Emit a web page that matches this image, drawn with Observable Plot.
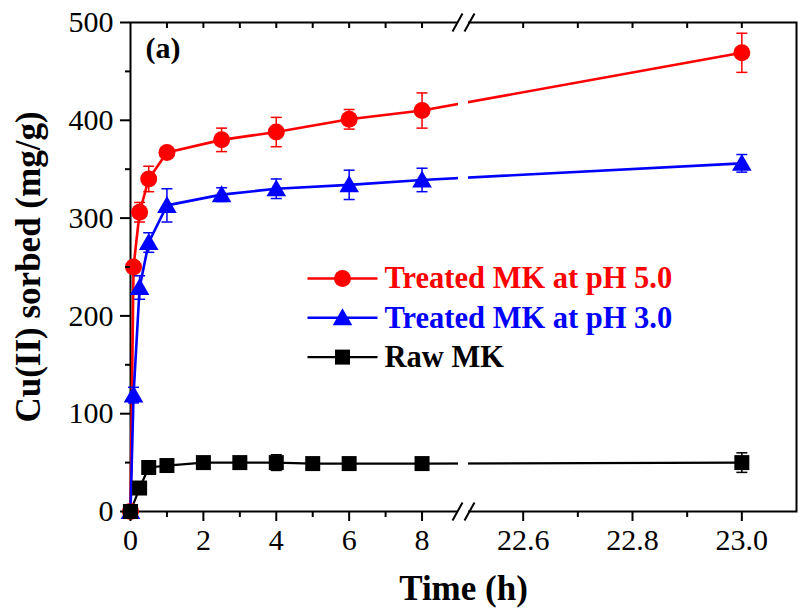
<!DOCTYPE html>
<html>
<head>
<meta charset="utf-8">
<script src="https://cdn.jsdelivr.net/npm/d3@7"></script>
<script src="https://cdn.jsdelivr.net/npm/@observablehq/plot@0.6"></script>
<style>
  html, body { margin: 0; padding: 0; background: white; }
  #chart { width: 798px; height: 613px; }
</style>
</head>
<body>
<div id="chart"></div>
<script>
// ---------------- data ----------------
const timesTreated = [0, 0.083, 0.25, 0.5, 1, 2.5, 4, 6, 8, 23];
const ph5Values    = [0, 250, 306, 340, 367, 380, 388, 401, 410, 469];
const ph5Errors    = [0, 5, 10, 13, 5, 12, 15, 10, 18, 20];
const ph3Values    = [0, 119, 229, 275, 313, 324, 330, 334, 339, 356];
const ph3Errors    = [0, 8, 12, 10, 17, 7, 10, 15, 12, 9];

const timesRaw     = [0, 0.25, 0.5, 1, 2, 3, 4, 5, 6, 8, 23];
const rawValues    = [0, 24, 45, 47, 50, 50, 50, 49, 49, 49, 50];
const rawErrors    = [0, 2, 2, 2, 2, 2, 8, 2, 2, 2, 10];

const seriesNames  = ["Treated MK at pH 5.0", "Treated MK at pH 3.0", "Raw MK"];

const xMajorTicks  = [0, 2, 4, 6, 8, 22.6, 22.8, 23.0];
const xMajorLabels = ["0", "2", "4", "6", "8", "22.6", "22.8", "23.0"];
const xMinorTicks  = [1, 3, 5, 7, 22.7, 22.9];
const xTopTicks    = [1, 2, 3, 4, 5, 6, 7, 8, 22.6, 22.7, 22.8, 22.9, 23.0];
const yMajorTicks  = [0, 100, 200, 300, 400, 500];
const yMinorTicks  = [50, 150, 250, 350, 450];

// ---------------- broken x axis ----------------
const breakStart = 9, breakEnd = 22.5, xEnd = 23.1;
const gapUnits = 0.275, rightStretch = 15;
const bx = t => t <= breakStart ? t : breakStart + gapUnits + (t - breakEnd) * rightStretch;
const xLabelOf = u => {
  const j = xMajorTicks.findIndex(t => Math.abs(bx(t) - u) < 1e-9);
  return j >= 0 ? xMajorLabels[j] : "";
};

const mk = (times, vals, errs) => times.map((t, i) => ({t, v: vals[i], e: errs[i]}));
const ph5 = mk(timesTreated, ph5Values, ph5Errors);
const ph3 = mk(timesTreated, ph3Values, ph3Errors);
const raw = mk(timesRaw, rawValues, rawErrors);

// ---------------- symbols ----------------
const hline = w => ({draw(ctx) { ctx.moveTo(-w / 2, 0); ctx.lineTo(w / 2, 0); }});
const triSym = {draw(ctx) { ctx.moveTo(0, -9.5); ctx.lineTo(9.8, 7.5); ctx.lineTo(-9.8, 7.5); ctx.closePath(); }};
const sqSym  = {draw(ctx) { ctx.rect(-7.5, -7.5, 15, 15); }};
const circSym = {draw(ctx) { ctx.moveTo(8.5, 0); ctx.arc(0, 0, 8.5, 0, 2 * Math.PI); }};
const slashSym = {draw(ctx) {
  ctx.moveTo(-11, 9); ctx.lineTo(-1, -9);
  ctx.moveTo(1, 9); ctx.lineTo(11, -9);
}};

const series = [
  {data: ph5, color: "#ff0000", sym: circSym, lw: 2.6, name: seriesNames[0]},
  {data: ph3, color: "#0000ff", sym: triSym, lw: 2.6, name: seriesNames[1]},
  {data: raw, color: "#000000", sym: sqSym, lw: 2.2, name: seriesNames[2]}
];

const serif = "Liberation Serif";
const X = d => bx(d.t);
const marks = [];

marks.push(Plot.frame({stroke: "black", strokeWidth: 2}));

for (const s of series) {
  marks.push(Plot.line(s.data, {x: X, y: "v", stroke: s.color, strokeWidth: s.lw}));
}

// white gap of the axis break
marks.push(Plot.rect([breakStart], {
  x1: () => bx(breakStart), x2: () => bx(breakStart) + gapUnits,
  y1: () => 0, y2: () => 500, fill: "white", insetTop: -6, insetBottom: -6
}));

for (const s of series) {
  const withErr = s.data.filter(d => d.e > 0);
  marks.push(Plot.ruleX(withErr, {x: X, y1: d => d.v - d.e, y2: d => d.v + d.e, stroke: s.color, strokeWidth: 1.5}));
  marks.push(Plot.dot(withErr, {x: X, y: d => d.v - d.e, symbol: hline(11), fill: "none", stroke: s.color, strokeWidth: 1.5}));
  marks.push(Plot.dot(withErr, {x: X, y: d => d.v + d.e, symbol: hline(11), fill: "none", stroke: s.color, strokeWidth: 1.5}));
}
for (const s of series) {
  marks.push(Plot.dot(s.data, {x: X, y: "v", symbol: s.sym, fill: s.color, stroke: "none"}));
}

// axes
const fs = 30;
marks.push(Plot.axisX({ticks: xMajorTicks.map(bx), tickFormat: xLabelOf, tickSize: 10, tickPadding: 7,
  fontSize: fs, fontFamily: serif, strokeWidth: 2, label: null, anchor: "bottom"}));
marks.push(Plot.axisX({ticks: xMinorTicks.map(bx), tickFormat: () => "", tickSize: 6,
  strokeWidth: 2, label: null, anchor: "bottom"}));
marks.push(Plot.axisX({ticks: xTopTicks.map(bx), tickFormat: () => "", tickSize: -5,
  strokeWidth: 2, label: null, anchor: "top"}));
marks.push(Plot.axisY({ticks: yMajorTicks, tickSize: 10, tickPadding: 7, fontSize: fs, fontFamily: serif,
  strokeWidth: 2, label: null, anchor: "left"}));
marks.push(Plot.axisY({ticks: yMinorTicks, tickFormat: () => "", tickSize: 5,
  strokeWidth: 2, label: null, anchor: "left"}));

// break marks
marks.push(Plot.dot([0, 500], {x: () => bx(breakStart) + gapUnits / 2, y: d => d, symbol: slashSym,
  fill: "none", stroke: "black", strokeWidth: 2}));

// titles
marks.push(Plot.text(["Time (h)"], {frameAnchor: "bottom", dy: 77, lineAnchor: "middle",
  fontSize: 35, fontWeight: "bold", fontFamily: serif}));
marks.push(Plot.text(["Cu(II) sorbed (mg/g)"], {frameAnchor: "left", dx: -102, rotate: -90,
  textAnchor: "middle", lineAnchor: "middle", fontSize: 35, fontWeight: "bold", fontFamily: serif}));
marks.push(Plot.text(["(a)"], {frameAnchor: "top-left", dx: 15, dy: 26, lineAnchor: "middle",
  textAnchor: "start", fontSize: 30, fontWeight: "bold", fontFamily: serif}));

// legend
series.forEach((s, i) => {
  const dy = 256 + i * 39.3;
  marks.push(Plot.dot([s], {frameAnchor: "top-left", dx: 212, dy, symbol: hline(70), fill: "none",
    stroke: s.color, strokeWidth: s.lw}));
  marks.push(Plot.dot([s], {frameAnchor: "top-left", dx: 212, dy, symbol: s.sym, fill: s.color, stroke: "none"}));
  marks.push(Plot.text([s.name], {frameAnchor: "top-left", dx: 254, dy, lineAnchor: "middle",
    textAnchor: "start", fontSize: 30.5, fontWeight: "bold", fill: s.color, fontFamily: serif}));
});

const chart = Plot.plot({
  width: 798, height: 613,
  marginLeft: 130, marginRight: 2, marginTop: 22, marginBottom: 102,
  x: {type: "linear", domain: [0, bx(xEnd)]},
  y: {domain: [0, 500]},
  style: {fontFamily: serif, color: "black", background: "white", overflow: "visible", fontVariant: "normal"},
  marks
});
d3.select(chart).selectAll("g").attr("font-family", null).attr("font-variant", null);
d3.select(chart).selectAll("text").attr("font-family", serif).style("font-family", serif).style("font-variant", "normal");
document.getElementById("chart").append(chart);
</script>
</body>
</html>
